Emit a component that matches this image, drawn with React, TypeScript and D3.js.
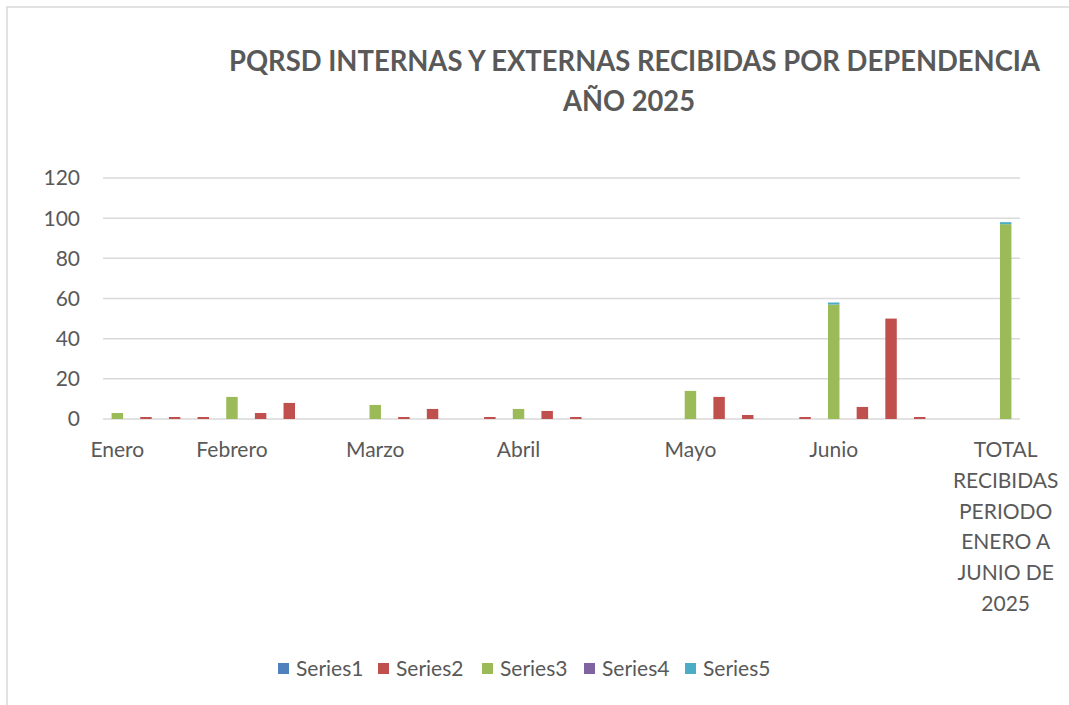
import React, { useEffect, useRef } from "react";
import * as d3 from "d3";

const categories = [
  "Enero", "", "", "", "Febrero", "", "", "", "", "Marzo", "", "", "", "", "Abril", "",
  "", "", "", "", "Mayo", "", "", "", "", "Junio", "", "", "", "", "",
  "TOTAL\nRECIBIDAS\nPERIODO\nENERO A\nJUNIO DE\n2025",
];

const series1 = [0, 0, 0, 0, 0, 0, 0, 0, 0, 0, 0, 0, 0, 0, 0, 0, 0, 0, 0, 0, 0, 0, 0, 0, 0, 0, 0, 0, 0, 0, 0, 0];
const series2 = [0, 1, 1, 1, 0, 3, 8, 0, 0, 0, 1, 5, 0, 1, 0, 4, 1, 0, 0, 0, 0, 11, 2, 0, 1, 0, 6, 50, 1, 0, 0, 0];
const series3 = [3, 0, 0, 0, 11, 0, 0, 0, 0, 7, 0, 0, 0, 0, 5, 0, 0, 0, 0, 0, 14, 0, 0, 0, 0, 57, 0, 0, 0, 0, 0, 97];
const series4 = [0, 0, 0, 0, 0, 0, 0, 0, 0, 0, 0, 0, 0, 0, 0, 0, 0, 0, 0, 0, 0, 0, 0, 0, 0, 0, 0, 0, 0, 0, 0, 0];
const series5 = [0, 0, 0, 0, 0, 0, 0, 0, 0, 0, 0, 0, 0, 0, 0, 0, 0, 0, 0, 0, 0, 0, 0, 0, 0, 1, 0, 0, 0, 0, 0, 1];

const seriesNames = ["Series1", "Series2", "Series3", "Series4", "Series5"];
const colors = ["#4F81BD", "#C0504D", "#9BBB59", "#8064A2", "#4BACC6"];
const yTicks = [0, 20, 40, 60, 80, 100, 120];

const FONT = "Lato, 'Open Sans', sans-serif";

export default function App() {
  const svgRef = useRef(null);

  useEffect(() => {
    const svg = d3.select(svgRef.current);
    svg.selectAll("*").remove();
    const width = 1069;
    const height = 705;
    const margin = { top: 178, right: 49, bottom: 286, left: 103 };

    const allSeries = [series1, series2, series3, series4, series5];
    const rows = categories.map((c, i) => {
      const r: any = { idx: i };
      seriesNames.forEach((s, k) => (r[s] = allSeries[k][i]));
      return r;
    });
    const stacked = d3.stack().keys(seriesNames)(rows);

    const x = d3
      .scaleBand()
      .domain(categories.map((_, i) => String(i)))
      .range([margin.left, width - margin.right])
      .paddingInner(0.6)
      .paddingOuter(0.3);

    const y = d3.scaleLinear().domain([0, 120]).range([height - margin.bottom, margin.top]);

    // chart border
    svg.append("rect").attr("x", 7).attr("y", 7).attr("width", width + 20).attr("height", height + 20)
      .attr("fill", "#fff").attr("stroke", "#d9d9d9").attr("stroke-width", 1.5);

    // title
    svg.append("text").attr("x", 634.5).attr("y", 71).attr("text-anchor", "middle")
      .attr("font-family", FONT).attr("font-weight", "bold").attr("font-size", 28)
      .attr("textLength", 811).attr("lengthAdjust", "spacingAndGlyphs")
      .attr("fill", "#595959").text("PQRSD INTERNAS Y EXTERNAS RECIBIDAS POR DEPENDENCIA");
    svg.append("text").attr("x", 629).attr("y", 111).attr("text-anchor", "middle")
      .attr("font-family", FONT).attr("font-weight", "bold").attr("font-size", 28)
      .attr("textLength", 132).attr("lengthAdjust", "spacingAndGlyphs")
      .attr("fill", "#595959").text("AÑO 2025");

    // gridlines
    svg.append("g").selectAll("line").data(yTicks).enter().append("line")
      .attr("x1", margin.left).attr("x2", width - margin.right)
      .attr("y1", (d) => y(d)).attr("y2", (d) => y(d))
      .attr("stroke", "#d9d9d9").attr("stroke-width", 1.5);

    // y labels
    svg.append("g").selectAll("text").data(yTicks).enter().append("text")
      .attr("x", 80).attr("y", (d) => y(d)).attr("dy", "0.35em").attr("text-anchor", "end")
      .attr("font-family", FONT).attr("font-size", 21).attr("fill", "#595959")
      .text((d) => d);

    // bars
    svg.append("g").selectAll("g").data(stacked).enter().append("g")
      .attr("fill", (d, k) => colors[k])
      .selectAll("rect").data((d) => d).enter().append("rect")
      .attr("x", (d) => x(String(d.data.idx)))
      .attr("y", (d) => y(d[1]))
      .attr("width", x.bandwidth())
      .attr("height", (d) => y(d[0]) - y(d[1]));

    // x labels
    const xl = svg.append("g").selectAll("text").data(categories).enter().append("text")
      .attr("x", (_, i) => x(String(i)) + x.bandwidth() / 2)
      .attr("y", 457).attr("text-anchor", "middle")
      .attr("font-family", FONT).attr("font-size", 21).attr("fill", "#595959");
    xl.each(function (d) {
      const t = d3.select(this);
      d.split("\n").forEach((line, j) => {
        t.append("tspan").attr("x", t.attr("x")).attr("dy", j === 0 ? 0 : 30.8).text(line);
      });
    });

    // legend
    const legendX = [278, 378, 482, 584, 685];
    const lg = svg.append("g").selectAll("g").data(seriesNames).enter().append("g")
      .attr("transform", (_, k) => `translate(${legendX[k]},669)`);
    lg.append("rect").attr("x", 0).attr("y", -6).attr("width", 11).attr("height", 11)
      .attr("fill", (_, k) => colors[k]);
    lg.append("text").attr("x", 18).attr("y", 0).attr("dy", "0.35em")
      .attr("font-family", FONT).attr("font-size", 21).attr("fill", "#595959")
      .text((d) => d);
  }, []);

  return (
    <svg ref={svgRef} width="1069" height="705" style={{ position: "absolute", left: 0, top: 0 }} />
  );
}
